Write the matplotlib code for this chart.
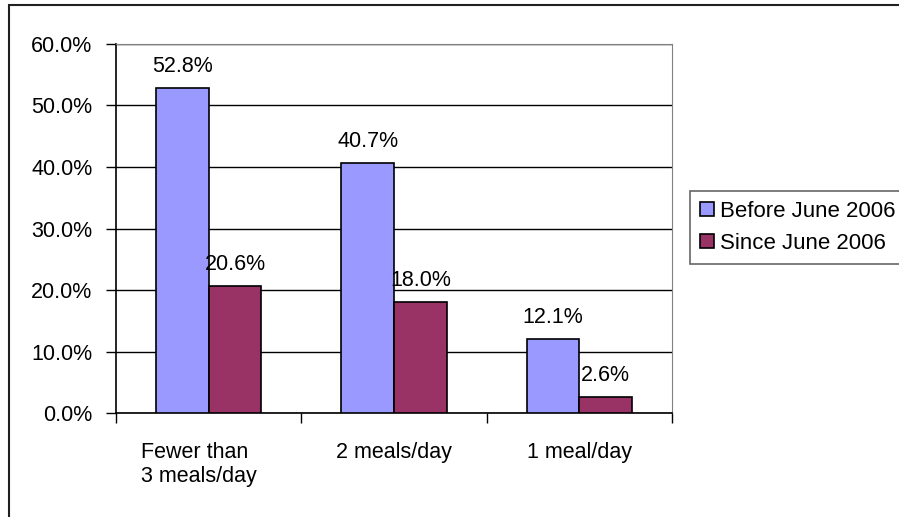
import numpy as np
from matplotlib import pyplot as plt
from matplotlib.patches import Rectangle
from matplotlib.ticker import FixedLocator, PercentFormatter

categories = ["Fewer than\n3 meals/day", "2 meals/day", "1 meal/day"]
before_june_2006 = [52.8, 40.7, 12.1]
since_june_2006 = [20.6, 18.0, 2.6]
series_names = ["Before June 2006", "Since June 2006"]
y_ticks = [0, 10, 20, 30, 40, 50, 60]

PURPLE = "#9999FF"
MAROON = "#993366"

plt.rcParams["font.family"] = ["Liberation Sans", "DejaVu Sans"]
plt.rcParams["font.size"] = 15.5


def main() -> None:
    fig = plt.figure(figsize=(8.99, 5.17), dpi=100)
    ax = fig.add_axes([0.129, 0.201, 0.6185, 0.714])

    # outer frame around the whole chart (runs off the right and bottom edges)
    fig.patches.append(Rectangle((0.010, -0.1), 1.2, 1.09, transform=fig.transFigure,
                                 fill=False, edgecolor="#202020", linewidth=1.5))

    x = np.arange(len(categories))
    width = 0.285
    bars1 = ax.bar(x - width / 2, before_june_2006, width, color=PURPLE,
                   edgecolor="black", linewidth=1.2, label=series_names[0], zorder=3)
    bars2 = ax.bar(x + width / 2, since_june_2006, width, color=MAROON,
                   edgecolor="black", linewidth=1.2, label=series_names[1], zorder=3)

    for bars in (bars1, bars2):
        for b in bars:
            ax.annotate(f"{b.get_height():.1f}%",
                        (b.get_x() + b.get_width() / 2, b.get_height()),
                        xytext=(0, 8), textcoords="offset points",
                        ha="center", va="bottom", zorder=5)

    ax.set_xlim(-0.5, len(categories) - 0.5)
    ax.set_ylim(0, 60)
    ax.set_yticks(y_ticks)
    ax.yaxis.set_major_formatter(PercentFormatter(decimals=1))
    ax.yaxis.grid(True, color="black", linewidth=1)
    ax.set_axisbelow(True)

    # category names on invisible major ticks; the two-line one sits a bit left
    label_pos = x + np.array([-0.055, 0, 0])
    ax.set_xticks(label_pos)
    ax.set_xticklabels(categories, multialignment="left")
    ax.xaxis.set_minor_locator(FixedLocator(np.arange(len(categories) + 1) - 0.5))
    ax.tick_params(axis="x", which="major", length=0, pad=21)
    ax.tick_params(axis="x", which="minor", length=7, width=1, color="black")
    ax.tick_params(axis="y", length=7, width=1, pad=10)

    for side in ("top", "right"):
        ax.spines[side].set_color("#808080")
    ax.spines["left"].set_linewidth(1.2)
    ax.spines["bottom"].set_linewidth(1.2)

    leg = fig.legend(loc="upper left", bbox_to_anchor=(0.768, 0.631),
                     frameon=True, fancybox=False, edgecolor="#404040",
                     prop={"size": 16},
                     handlelength=0.6, handleheight=0.6, handletextpad=0.3,
                     borderpad=0.45, labelspacing=0.5, borderaxespad=0)
    leg.get_frame().set_linewidth(1.2)

    fig.savefig("out.png", dpi=100)


if __name__ == "__main__":
    main()
